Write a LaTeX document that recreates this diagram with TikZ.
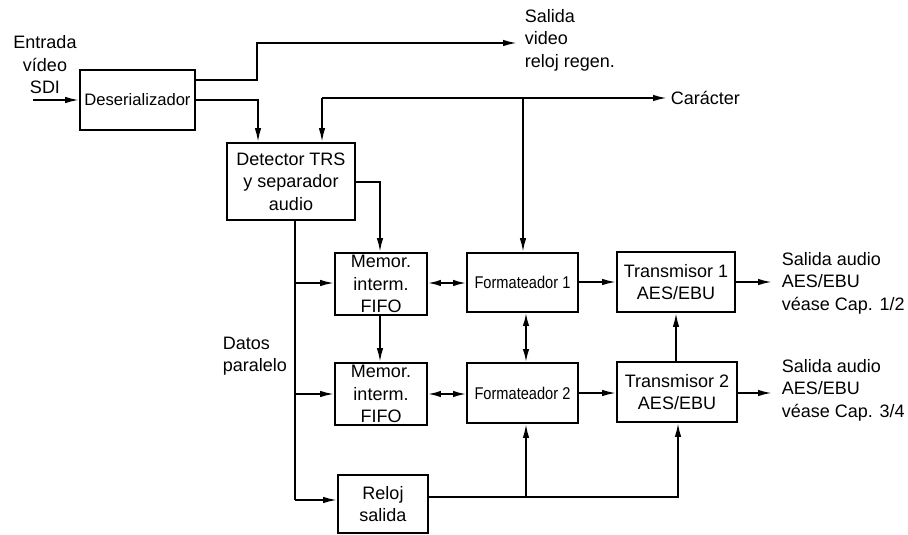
\documentclass[tikz,border=0pt]{standalone}
\usepackage{fontspec}
\setmainfont{Liberation Sans}
\usetikzlibrary{arrows.meta}
\begin{document}
\begin{tikzpicture}[x=1pt,y=-1pt, line width=1.8pt,
  box/.style={draw, line width=1.8pt, align=center, inner sep=0pt, font=\fontsize{18}{22.5}\selectfont},
  arr/.style={-{Latex[length=14pt,width=6.5pt]}},
  darr/.style={{Latex[length=13pt,width=6.5pt]}-{Latex[length=13pt,width=6.5pt]}},
  lbl/.style={align=left, inner sep=0pt, font=\fontsize{18}{22.5}\selectfont}]
\useasboundingbox (0,0) rectangle (908,535);
% boxes
\node[box, minimum width=115pt, minimum height=60pt, font=\fontsize{16.6}{20}\selectfont] (des) at (137.5,100) {Deserializador};
\node[box, minimum width=128pt, minimum height=77pt] (det) at (291,181.5) {Detector TRS\\y separador\\audio};
\node[box, minimum width=92pt, minimum height=62pt] (fifo1) at (381,284) {Memor.\\interm.\\FIFO};
\node[box, minimum width=92pt, minimum height=62pt] (fifo2) at (381,394) {Memor.\\interm.\\FIFO};
\node[box, minimum width=111pt, minimum height=59pt, font=\fontsize{17}{20}\selectfont] (form1) at (522.5,282.5) {\scalebox{0.86}[1]{Formateador 1}};
\node[box, minimum width=111pt, minimum height=60pt, font=\fontsize{17}{20}\selectfont] (form2) at (522.5,393) {\scalebox{0.86}[1]{Formateador 2}};
\node[box, minimum width=118pt, minimum height=60pt] (tr1) at (676,282) {Transmisor 1\\AES/EBU};
\node[box, minimum width=120pt, minimum height=60pt] (tr2) at (677,392) {Transmisor 2\\AES/EBU};
\node[box, minimum width=90pt, minimum height=58pt] (rel) at (383,504) {Reloj\\salida};
% labels
\node[lbl, align=center] (lin) at (45,65) {Entrada\\vídeo\\SDI};
\node[lbl, anchor=west] (lsal) at (524,40) {Salida\\video\\reloj regen.};
\node[lbl, anchor=west] (lcar) at (670,98) {Carácter};
\node[lbl, anchor=west] (ldat) at (222,356) {Datos\\paralelo};
\node[lbl, anchor=west] (lo1) at (781,283) {Salida audio\\AES/EBU\\véase Cap. 1/2};
\node[lbl, anchor=west] (lo2) at (781,390) {Salida audio\\AES/EBU\\véase Cap. 3/4};
% coordinates
\coordinate (cin) at (33,100);
\coordinate (csal) at (517,43);
\coordinate (ccar0) at (322,98);
\coordinate (ccar) at (667,98);
\coordinate (cbus) at (295,220);
\coordinate (cbusend) at (295,500);
\coordinate (cclk) at (678,497);
\coordinate (co1) at (772,282);
\coordinate (co2) at (772,393);
% connectors
\draw[arr] (cin) -- (des.west |- cin);
\draw[arr] (des.east |- 0,80) -- (257,80) -- (257,43) -- (csal);
\draw[arr] (des.east |- 0,100) -- (258,100) -- (258,0 |- det.north);
\draw[arr] (ccar0) -- (322,0 |- det.north);
\draw[arr] (ccar0) -- (ccar);
\draw[arr] (523,98) -- (523,0 |- form1.north);
\draw[arr] (det.east |- 0,182) -- (380,182) -- (380,0 |- fifo1.north);
\draw (det.south -| cbus) -- (cbusend);
\draw[arr] (295,283) -- (fifo1.west |- 0,283);
\draw[arr] (295,394) -- (fifo2.west |- 0,394);
\draw[arr] (cbusend) -- (rel.west |- cbusend);
\draw[arr] (fifo1.south -| 380,0) -- (fifo2.north -| 380,0);
\draw[darr] (fifo1.east |- 0,283) -- (form1.west |- 0,283);
\draw[darr] (fifo2.east |- 0,394) -- (form2.west |- 0,394);
\draw[darr] (form1.south -| 526,0) -- (form2.north -| 526,0);
\draw[arr] (form1.east |- 0,282) -- (tr1.west |- 0,282);
\draw[arr] (form2.east |- 0,393) -- (tr2.west |- 0,393);
\draw[arr] (rel.east |- cclk) -- (cclk) -- (tr2.south -| cclk);
\draw[arr] (526,497) -- (form2.south -| 526,0);
\draw[arr] (tr2.north -| 676,0) -- (tr1.south -| 676,0);
\draw[arr] (tr1.east |- co1) -- (co1);
\draw[arr] (tr2.east |- co2) -- (co2);
\end{tikzpicture}
\end{document}
